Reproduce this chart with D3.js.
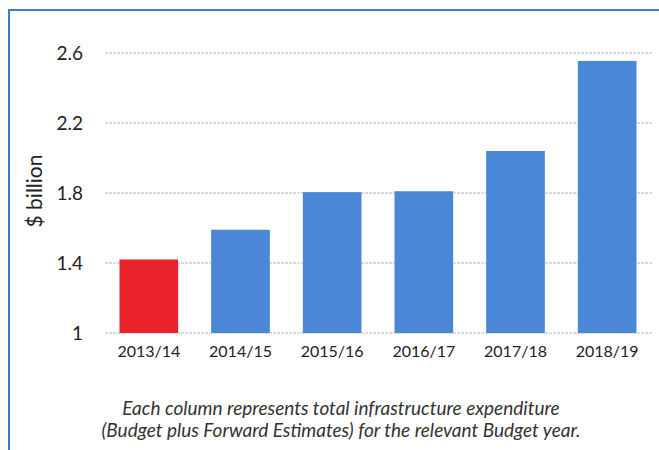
<!DOCTYPE html>
<html>
<head>
<meta charset="utf-8">
<script src="https://cdn.jsdelivr.net/npm/d3@7"></script>
<style>
  body { margin: 0; background: #fff; }
  svg { display: block; font-family: Lato, "Open Sans", sans-serif; }
</style>
</head>
<body>
<div id="chart"></div>
<script>
// chart data
const years = ["2013/14", "2014/15", "2015/16", "2016/17", "2017/18", "2018/19"];
const spend = [1.42, 1.59, 1.805, 1.81, 2.04, 2.555];
const yTicks = [1, 1.4, 1.8, 2.2, 2.6];
const caption = [
    "Each column represents total infrastructure expenditure",
    "(Budget plus Forward Estimates) for the relevant Budget year."
];

const width = 659, height = 450;

const svg = d3.select("#chart").append("svg")
    .attr("width", width)
    .attr("height", height);

// blue frame round the figure
svg.append("path")
    .attr("d", `M9,${height + 5} L9,10 L${width + 5},10`)
    .attr("fill", "none")
    .attr("stroke", "#3a7bd5")
    .attr("stroke-width", 2);

const x = d3.scaleBand()
    .domain(years)
    .range([103, 653])
    .paddingInner(0.36)
    .paddingOuter(0.18);

const y = d3.scaleLinear()
    .domain([1, 2.6])
    .range([333, 53]);

// gridlines
svg.append("g")
    .selectAll("line")
    .data(yTicks)
    .join("line")
    .attr("x1", 105)
    .attr("x2", 653)
    .attr("y1", d => y(d))
    .attr("y2", d => y(d))
    .attr("stroke", "#b8b8b8")
    .attr("stroke-width", 1)
    .attr("stroke-dasharray", "3,1");

// y axis labels
const yAxis = svg.append("g")
    .attr("transform", "translate(83,0)")
    .call(d3.axisLeft(y).tickValues(yTicks).tickSize(0).tickPadding(0).tickFormat(d3.format("")));
yAxis.select(".domain").remove();
yAxis.selectAll("text")
    .attr("font-size", 19)
    .attr("font-family", "Lato, sans-serif")
    .attr("fill", "#222");

svg.append("text")
    .attr("transform", "translate(42,191) rotate(-90)")
    .attr("text-anchor", "middle")
    .attr("font-size", 21)
    .attr("fill", "#222")
    .text("$ billion");

// bars
svg.append("g")
    .selectAll("rect")
    .data(spend)
    .join("rect")
    .attr("x", (d, i) => x(years[i]))
    .attr("width", x.bandwidth())
    .attr("y", d => y(d))
    .attr("height", d => y(1) - y(d))
    .attr("fill", (d, i) => i === 0 ? "#e8212b" : "#4a87d6");

// x axis labels
const xAxis = svg.append("g")
    .attr("transform", `translate(0,${y(1)})`)
    .call(d3.axisBottom(x).tickSize(0).tickPadding(13));
xAxis.select(".domain").remove();
xAxis.selectAll("text")
    .attr("font-size", 16)
    .attr("font-family", "Lato, sans-serif")
    .attr("fill", "#222");

// caption
svg.append("g")
    .selectAll("text")
    .data(caption)
    .join("text")
    .attr("x", 341)
    .attr("y", (d, i) => 415 + i * 22)
    .attr("text-anchor", "middle")
    .attr("font-size", 19)
    .attr("font-style", "italic")
    .attr("fill", "#333")
    .text(d => d);
</script>
</body>
</html>
